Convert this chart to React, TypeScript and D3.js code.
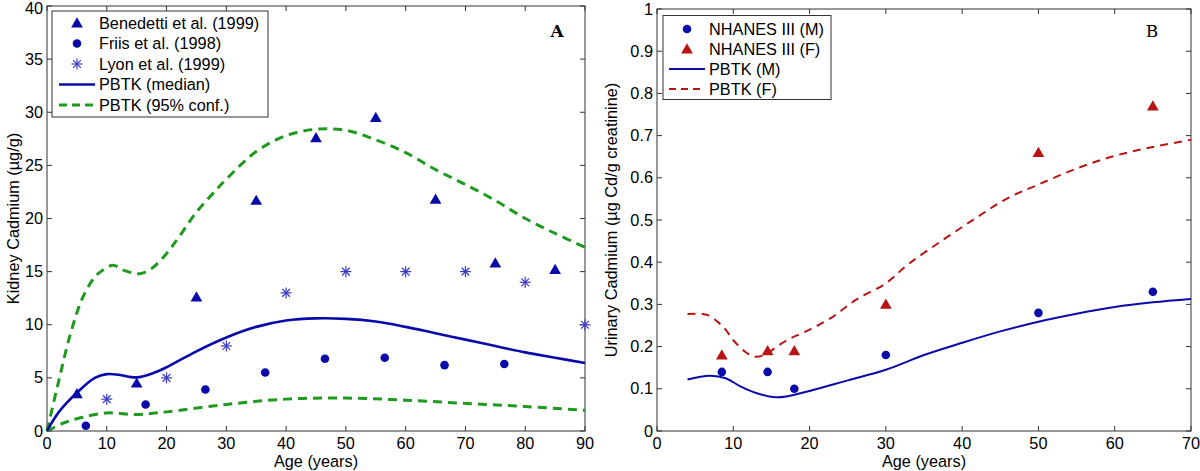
import React from "react";
import * as d3 from "d3";

// Panel A: kidney cadmium vs age
const benedettiAge = [5, 15, 25, 35, 45, 55, 65, 75, 85];
const benedettiVal = [3.5, 4.5, 12.6, 21.7, 27.6, 29.5, 21.8, 15.8, 15.2];
const friisAge = [6.5, 16.5, 26.5, 36.5, 46.5, 56.5, 66.5, 76.5];
const friisVal = [0.5, 2.5, 3.9, 5.5, 6.8, 6.9, 6.2, 6.3];
const lyonAge = [10, 20, 30, 40, 50, 60, 70, 80, 90];
const lyonVal = [3, 5, 8, 13, 15, 15, 15, 14, 10];

const medianAge = [0, 2, 5, 8, 10, 12, 15, 18, 20, 25, 30, 35, 40, 45, 50, 55, 60, 65, 70, 75, 80, 85, 90];
const medianVal = [0, 1.8, 3.6, 5.0, 5.35, 5.3, 5.05, 5.5, 6.0, 7.5, 8.8, 9.8, 10.4, 10.6, 10.55, 10.3, 9.8, 9.2, 8.6, 8.0, 7.4, 6.9, 6.4];
const upperAge = [0, 2, 4, 6, 8, 9, 11, 13, 15.5, 17.5, 20, 22, 25, 27.5, 30, 35, 40, 45, 50, 55, 60, 65, 70, 75, 80, 85, 90];
const upperVal = [0, 4.8, 9.3, 12.6, 14.5, 15.0, 15.6, 15.1, 14.8, 15.3, 16.7, 18.2, 20.6, 22.2, 23.7, 26.3, 27.8, 28.4, 28.3, 27.4, 26.2, 24.6, 23.2, 21.7, 20.0, 18.6, 17.3];
const lowerAge = [0, 3, 6, 10, 15, 20, 30, 40, 50, 60, 70, 80, 90];
const lowerVal = [0, 0.8, 1.3, 1.7, 1.55, 1.8, 2.5, 3.0, 3.1, 2.9, 2.6, 2.3, 1.95];

const xTicksA = [0, 10, 20, 30, 40, 50, 60, 70, 80, 90];
const yTicksA = [0, 5, 10, 15, 20, 25, 30, 35, 40];

// Panel B: urinary cadmium vs age
const nhanesAge = [8.5, 14.5, 18, 30, 50, 65];
const nhanesM = [0.14, 0.14, 0.1, 0.18, 0.28, 0.33];
const nhanesF = [0.18, 0.19, 0.19, 0.3, 0.66, 0.77];

const pbtkMAge = [4, 5.5, 7, 9, 11, 13, 15.5, 17, 20, 25, 30, 35, 40, 45, 50, 55, 60, 65, 70];
const pbtkMVal = [0.122, 0.128, 0.131, 0.125, 0.105, 0.09, 0.08, 0.082, 0.095, 0.12, 0.145, 0.18, 0.209, 0.236, 0.259, 0.278, 0.294, 0.305, 0.313];
const pbtkFAge = [4, 6, 7, 8, 9, 10, 12, 13, 14, 17, 20, 23, 26, 30, 33, 37.5, 42, 46, 50, 55, 60, 65, 70];
const pbtkFVal = [0.277, 0.277, 0.272, 0.258, 0.24, 0.215, 0.182, 0.176, 0.18, 0.215, 0.24, 0.27, 0.31, 0.35, 0.396, 0.453, 0.507, 0.552, 0.584, 0.622, 0.652, 0.673, 0.69];

const xTicksB = [0, 10, 20, 30, 40, 50, 60, 70];
const yTicksB = [0, 0.1, 0.2, 0.3, 0.4, 0.5, 0.6, 0.7, 0.8, 0.9, 1];

const BLUE = "#0a0aa8";
const STAR = "#3a3ac8";
const GREEN = "#1e9a1e";
const RED = "#b81414";
const AXIS = "#333";
const FONT = "'Liberation Sans', Arial, sans-serif";
const FS = 16.3;

const zip = (a: number[], b: number[]) => a.map((v, i) => [v, b[i]] as [number, number]);

const triPath = d3.symbol(d3.symbolTriangle, 60)()!;

function Star({ x, y, c }: { x: number; y: number; c: string }) {
  const r = 5.5;
  return (
    <g transform={`translate(${x},${y})`} stroke={c} strokeWidth={1.2}>
      <line x1={-r} y1={0} x2={r} y2={0} />
      <line x1={0} y1={-r} x2={0} y2={r} />
      <line x1={-r * 0.7} y1={-r * 0.7} x2={r * 0.7} y2={r * 0.7} />
      <line x1={-r * 0.7} y1={r * 0.7} x2={r * 0.7} y2={-r * 0.7} />
    </g>
  );
}

function Frame({
  x, y, xTicks, yTicks, fmtY,
}: {
  x: d3.ScaleLinear<number, number>;
  y: d3.ScaleLinear<number, number>;
  xTicks: number[];
  yTicks: number[];
  fmtY: (v: number) => string;
}) {
  const [x0, x1] = x.range();
  const [y0, y1] = y.range();
  const tl = 5;
  return (
    <g fill="none" stroke={AXIS} strokeWidth={1}>
      <rect x={x0} y={y1} width={x1 - x0} height={y0 - y1} />
      {xTicks.map((t) => (
        <g key={"x" + t}>
          <line x1={x(t)} x2={x(t)} y1={y0} y2={y0 - tl} />
          <line x1={x(t)} x2={x(t)} y1={y1} y2={y1 + tl} />
          <text x={x(t)} y={y0 + 18} fill="#000" stroke="none" textAnchor="middle" fontSize={FS} fontFamily={FONT}>
            {t}
          </text>
        </g>
      ))}
      {yTicks.map((t) => (
        <g key={"y" + t}>
          <line x1={x0} x2={x0 + tl} y1={y(t)} y2={y(t)} />
          <line x1={x1} x2={x1 - tl} y1={y(t)} y2={y(t)} />
          <text
            x={x0 - 4}
            y={Math.max(y(t) + 5.5, 14)}
            fill="#000"
            stroke="none"
            textAnchor="end"
            fontSize={FS}
            fontFamily={FONT}
          >
            {fmtY(t)}
          </text>
        </g>
      ))}
    </g>
  );
}

export default function App() {
  // Panel A scales
  const xA = d3.scaleLinear().domain([0, 90]).range([47, 585]);
  const yA = d3.scaleLinear().domain([0, 40]).range([431, 6]);
  const lineA = d3
    .line<[number, number]>()
    .x((d) => xA(d[0]))
    .y((d) => yA(d[1]))
    .curve(d3.curveCatmullRom);

  // Panel B scales
  const xB = d3.scaleLinear().domain([0, 70]).range([657, 1191]);
  const yB = d3.scaleLinear().domain([0, 1]).range([431, 9]);
  const lineB = d3
    .line<[number, number]>()
    .x((d) => xB(d[0]))
    .y((d) => yB(d[1]))
    .curve(d3.curveCatmullRom);

  const legA = [
    { label: "Benedetti et al. (1999)", kind: "tri" },
    { label: "Friis et al. (1998)", kind: "dot" },
    { label: "Lyon et al. (1999)", kind: "star" },
    { label: "PBTK (median)", kind: "line" },
    { label: "PBTK (95% conf.)", kind: "dash" },
  ];
  const legB = [
    { label: "NHANES III (M)", kind: "dot" },
    { label: "NHANES III (F)", kind: "tri" },
    { label: "PBTK (M)", kind: "line" },
    { label: "PBTK (F)", kind: "dash" },
  ];

  return (
    <svg
      width={1200}
      height={471}
      style={{ position: "absolute", left: 0, top: 0, background: "#fff" }}
      fontFamily={FONT}
    >
      {/* ---------- Panel A ---------- */}
      <Frame x={xA} y={yA} xTicks={xTicksA} yTicks={yTicksA} fmtY={(v) => String(v)} />
      <path d={lineA(zip(upperAge, upperVal))!} fill="none" stroke={GREEN} strokeWidth={3} strokeDasharray="9,6" />
      <path d={lineA(zip(lowerAge, lowerVal))!} fill="none" stroke={GREEN} strokeWidth={3} strokeDasharray="9,6" />
      <path d={lineA(zip(medianAge, medianVal))!} fill="none" stroke={BLUE} strokeWidth={2.6} />
      {benedettiAge.map((a, i) => (
        <path key={"b" + i} d={triPath} transform={`translate(${xA(a)},${yA(benedettiVal[i]) + 1})`} fill={BLUE} />
      ))}
      {friisAge.map((a, i) => (
        <circle key={"f" + i} cx={xA(a)} cy={yA(friisVal[i])} r={4.3} fill={BLUE} />
      ))}
      {lyonAge.map((a, i) => (
        <Star key={"l" + i} x={xA(a)} y={yA(lyonVal[i])} c={STAR} />
      ))}
      <text x={557} y={37} fontFamily="'DejaVu Serif', 'Liberation Serif', serif" fontWeight="bold" fontSize={17} textAnchor="middle">
        A
      </text>
      <rect x={52} y={11} width={216} height={106} fill="#fff" stroke={AXIS} />
      {legA.map((e, i) => {
        const cy = 23 + i * 20.5;
        return (
          <g key={"la" + i}>
            {e.kind === "tri" && <path d={triPath} transform={`translate(77,${cy + 1})`} fill={BLUE} />}
            {e.kind === "dot" && <circle cx={77} cy={cy} r={4.3} fill={BLUE} />}
            {e.kind === "star" && <Star x={77} y={cy} c={STAR} />}
            {e.kind === "line" && <line x1={59} x2={95} y1={cy} y2={cy} stroke={BLUE} strokeWidth={2.6} />}
            {e.kind === "dash" && (
              <line x1={59} x2={95} y1={cy} y2={cy} stroke={GREEN} strokeWidth={3} strokeDasharray="8,5" />
            )}
            <text x={99} y={cy + 5.5} fontSize={FS}>
              {e.label}
            </text>
          </g>
        );
      })}
      <text x={316} y={467} textAnchor="middle" fontSize={FS}>
        Age (years)
      </text>
      <text transform={`translate(19,${(6 + 431) / 2}) rotate(-90)`} textAnchor="middle" fontSize={FS}>
        Kidney Cadmium (µg/g)
      </text>

      {/* ---------- Panel B ---------- */}
      <Frame x={xB} y={yB} xTicks={xTicksB} yTicks={yTicksB} fmtY={(v) => (v === 0 || v === 1 ? String(v) : v.toFixed(1))} />
      <path d={lineB(zip(pbtkFAge, pbtkFVal))!} fill="none" stroke={RED} strokeWidth={2} strokeDasharray="8,6" />
      <path d={lineB(zip(pbtkMAge, pbtkMVal))!} fill="none" stroke={BLUE} strokeWidth={2} />
      {nhanesAge.map((a, i) => (
        <circle key={"m" + i} cx={xB(a)} cy={yB(nhanesM[i])} r={4.3} fill={BLUE} />
      ))}
      {nhanesAge.map((a, i) => (
        <path key={"w" + i} d={triPath} transform={`translate(${xB(a)},${yB(nhanesF[i]) + 1})`} fill={RED} />
      ))}
      <text x={1152} y={37} fontFamily="'DejaVu Serif', 'Liberation Serif', serif" fontSize={17} textAnchor="middle">
        B
      </text>
      <rect x={663} y={15.5} width={168} height={84} fill="#fff" stroke={AXIS} />
      {legB.map((e, i) => {
        const cy = 29 + i * 20;
        return (
          <g key={"lb" + i}>
            {e.kind === "tri" && <path d={triPath} transform={`translate(687,${cy + 1})`} fill={RED} />}
            {e.kind === "dot" && <circle cx={687} cy={cy} r={4.3} fill={BLUE} />}
            {e.kind === "line" && <line x1={669} x2={705} y1={cy} y2={cy} stroke={BLUE} strokeWidth={2} />}
            {e.kind === "dash" && (
              <line x1={669} x2={705} y1={cy} y2={cy} stroke={RED} strokeWidth={2} strokeDasharray="7,5" />
            )}
            <text x={709} y={cy + 5.5} fontSize={FS}>
              {e.label}
            </text>
          </g>
        );
      })}
      <text x={924} y={467} textAnchor="middle" fontSize={FS}>
        Age (years)
      </text>
      <text transform={`translate(617,${(9 + 431) / 2}) rotate(-90)`} textAnchor="middle" fontSize={FS}>
        Urinary Cadmium (µg Cd/g creatinine)
      </text>
    </svg>
  );
}
